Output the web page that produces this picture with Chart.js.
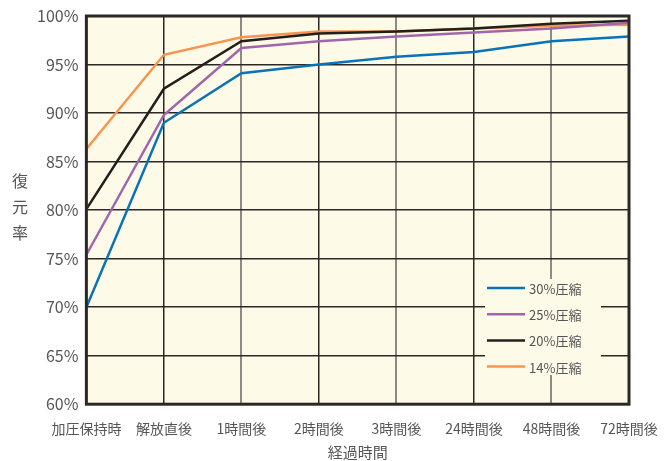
<!DOCTYPE html>
<html>
<head>
<meta charset="utf-8">
<script src="https://cdn.jsdelivr.net/npm/chart.js@4/dist/chart.umd.min.js"></script>
<style>
  html, body { margin: 0; padding: 0; background: #fff; }
  #wrap { width: 670px; height: 461px; }
</style>
</head>
<body>
<div id="wrap"><canvas id="recoveryChart"></canvas></div>
<script>
// 経過時間 (カテゴリ)
const categories = ['加圧保持時', '解放直後', '1時間後', '2時間後', '3時間後', '24時間後', '48時間後', '72時間後'];

// 系列ラベル
const seriesNames = ['30%圧縮', '25%圧縮', '20%圧縮', '14%圧縮'];
const seriesColors = ['#0a72b8', '#a066ad', '#231f1c', '#f79550'];

// 復元率 (%)
const rate30 = [70.0, 89.0, 94.1, 95.0, 95.8, 96.3, 97.4, 97.9];
const rate25 = [75.4, 89.8, 96.7, 97.4, 97.9, 98.3, 98.7, 99.3];
const rate20 = [80.1, 92.5, 97.4, 98.2, 98.4, 98.7, 99.2, 99.5];
const rate14 = [86.3, 96.0, 97.8, 98.4, 98.4, 98.7, 99.0, 99.1];

// y軸の目盛
const yMin = 60;
const yMax = 100;
const yStep = 5;

// 軸タイトル
const yTitle = ['復', '元', '率'];
const xTitle = '経過時間';

const seriesValues = [rate30, rate25, rate20, rate14];
const FONT = '"Noto Sans CJK JP", "Noto Sans", sans-serif';
const TEXT_COLOR = '#555';

// 背景色 (プロット領域)
const plotBackground = {
    id: 'plotBackground',
    beforeDraw(chart) {
        const { ctx, chartArea: a } = chart;
        ctx.save();
        ctx.fillStyle = '#fefae8';
        ctx.fillRect(a.left, a.top, a.right - a.left, a.bottom - a.top);
        ctx.restore();
    }
};

// 枠線・凡例・軸タイトル
const frameAndLegend = {
    id: 'frameAndLegend',
    afterDatasetsDraw(chart) {
        const { ctx, chartArea: a } = chart;
        ctx.save();

        // 凡例
        ctx.fillStyle = '#fefae8';
        ctx.fillRect(485, 279, 116, 96);
        ctx.font = '13px ' + FONT;
        ctx.textBaseline = 'middle';
        chart.data.datasets.forEach((ds, i) => {
            const y = 288 + i * 26.2;
            ctx.strokeStyle = ds.borderColor;
            ctx.lineWidth = 2.5;
            ctx.beginPath();
            ctx.moveTo(487, y);
            ctx.lineTo(525, y);
            ctx.stroke();
            ctx.fillStyle = TEXT_COLOR;
            ctx.textAlign = 'left';
            ctx.fillText(ds.label, 529, y + 1);
        });

        // 枠線
        ctx.strokeStyle = '#2b2826';
        ctx.lineWidth = 3;
        ctx.strokeRect(a.left, a.top, a.right - a.left, a.bottom - a.top);

        // 軸タイトル
        ctx.fillStyle = TEXT_COLOR;
        ctx.textAlign = 'center';
        ctx.font = '16px ' + FONT;
        yTitle.forEach((ch, i) => ctx.fillText(ch, 20, 181 + i * 26));
        ctx.font = '15px ' + FONT;
        ctx.fillText(xTitle, (a.left + a.right) / 2, 452);
        ctx.restore();
    }
};

const datasets = seriesNames.map((name, i) => ({
    label: name,
    data: seriesValues[i],
    borderColor: seriesColors[i],
    backgroundColor: seriesColors[i],
    borderWidth: 2.5,
    pointRadius: 0,
    tension: 0,
    fill: false
}));

new Chart(document.getElementById('recoveryChart'), {
    type: 'line',
    data: { labels: categories, datasets: datasets },
    options: {
        responsive: true,
        maintainAspectRatio: false,
        animation: false,
        layout: { padding: { left: 29, right: 41, top: 7, bottom: 20 } },
        scales: {
            x: {
                offset: false,
                grid: {
                    drawTicks: true,
                    tickLength: 12,
                    tickColor: 'rgba(0,0,0,0)',
                    color: function (c) {
                        return c.index % 2 === 0 ? '#8c8a84' : '#2b2826';
                    },
                    lineWidth: function (c) {
                        return c.index % 2 === 0 ? 2 : 1.5;
                    }
                },
                border: { display: false },
                ticks: {
                    color: TEXT_COLOR,
                    font: { family: FONT, size: 14 },
                    padding: 4,
                    maxRotation: 0,
                    autoSkip: false
                }
            },
            y: {
                min: yMin,
                max: yMax,
                grid: {
                    drawTicks: false,
                    color: '#2b2826',
                    lineWidth: 1.5
                },
                border: { display: false },
                ticks: {
                    stepSize: yStep,
                    color: TEXT_COLOR,
                    font: { family: FONT, size: 16, lineHeight: 1 },
                    padding: 8,
                    callback: function (v) { return v + '%'; }
                }
            }
        },
        plugins: {
            legend: { display: false },
            tooltip: { enabled: false }
        }
    },
    plugins: [plotBackground, frameAndLegend]
});
</script>
</body>
</html>
